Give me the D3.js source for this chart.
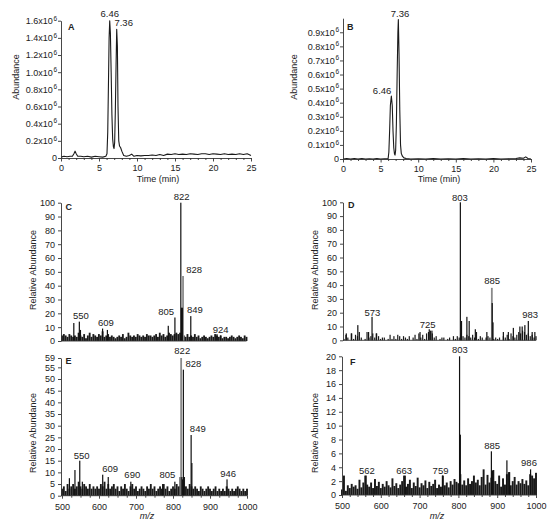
<!DOCTYPE html>
<html>
<head>
<meta charset="utf-8">
<script src="https://cdn.jsdelivr.net/npm/d3@7"></script>
<style>
body { margin: 0; background: #fff; }
text { font-family: "Liberation Sans", Arial, sans-serif; fill: #222; }
</style>
</head>
<body>
<svg id="canvas"></svg>
<script>
let chromTimeA = [0,0.4,0.8,1.2,1.5,1.7,1.85,2.0,2.2,2.6,3.0,3.5,4.0,4.5,5.0,5.5,5.9,6.05,6.15,6.25,6.33,6.41,6.5,6.6,6.7,6.8,6.9,6.98,7.06,7.15,7.25,7.33,7.42,7.5,7.6,7.7,7.85,8.0,8.25,8.6,9.0,9.3,9.6,10,10.5,11,11.5,12,12.5,13,13.5,14,14.5,15,15.5,16,16.5,17,17.5,18,18.5,19,19.5,20,20.5,21,21.5,22,22.5,23,23.5,24,24.5,25]
let chromAbundA = [0.01,0.02,0.015,0.02,0.02,0.05,0.08,0.05,0.02,0.02,0.015,0.02,0.01,0.02,0.015,0.01,0.02,0.05,0.3,0.9,1.4,1.6,1.45,1.0,0.5,0.22,0.13,0.11,0.18,0.55,1.1,1.5,1.3,0.6,0.2,0.14,0.12,0.08,0.03,0.02,0.03,0.045,0.02,0.03,0.025,0.03,0.03,0.035,0.03,0.04,0.03,0.045,0.04,0.05,0.04,0.045,0.04,0.05,0.045,0.04,0.05,0.05,0.04,0.05,0.045,0.04,0.05,0.04,0.045,0.04,0.05,0.04,0.05,0.03]

let chromTimeB = [0,0.5,1,1.5,2,2.5,3,3.5,4,4.5,5,5.5,6.0,6.1,6.2,6.3,6.43,6.55,6.65,6.75,6.85,6.92,7.0,7.1,7.2,7.3,7.36,7.45,7.55,7.65,7.75,7.9,8.1,8.4,9,10,11,12,13,14,15,16,17,18,19,20,21,22,23,23.5,24,24.3,24.6,25]
let chromAbundB = [0,0.003,0,0.004,0,0.003,0,0.002,0,0.003,0,0.002,0.003,0.05,0.2,0.38,0.447,0.38,0.2,0.08,0.035,0.028,0.06,0.25,0.6,0.9,0.99,0.75,0.35,0.1,0.04,0.02,0.008,0.003,0,0.002,0,0.003,0,0.002,0,0.003,0,0.002,0,0.003,0,0.002,0.004,0.008,0.005,0.015,0.004,0]

let timeTicks = [0,5,10,15,20,25]
let ticksA = [0,0.2,0.4,0.6,0.8,1.0,1.2,1.4,1.6]
let ticksB = [0,0.1,0.2,0.3,0.4,0.5,0.6,0.7,0.8,0.9]
let labelsA = [["6.46",6.41,1.647],["7.36",8.25,1.54]]
let labelsB = [["7.36",7.59,1.006],["6.46",5.2,0.46]]

// m/z grid of the low level signal, one value every 5 units
let mzGrid = d3.range(500, 1001, 5)

let noiseC = [4,5,4,3,5,4,3,4,3,6, 4,3,5,2,4,6,3,5,4,3, 5,4,7,3,4,5,3,4,3,2, 3,4,3,5,2,3,6,4,3,4, 3,5,4,3,4,3,5,4,4,3,
  4,5,3,6,4,5,3,4,6,5, 4,5,6,5,6,8,4,3,5,3, 4,3,5,3,4,2,3,4,3,2, 3,4,3,5,4,3,4,2,3,3, 2,3,4,3,2,3,4,3,2,4, 3]
let peaksC = [[532,13],[547,14],[550,8],[610,9],[623,8],[788,11],[806,17],[822,100],[824,24],[825,24],[826,24],[849,18],[920,5],[930,4]]
let greyPeaksC = [[828,47]]
let labelsC = [["822",824,101.7],["828",858,49.5],["805",782,18.8],["849",860,20.5],["550",551,16.2],["609",619,10.9],["924",930,6]]

let noiseD = [1,4,2,0,5,1,4,3,6,2, 0,1,6,2,3,5,2,5,3,1, 2,2,0,1,4,1,3,1,4,3, 1,3,2,1,3,0,2,4,1,5, 2,4,1,5,6,7,5,2,3,0,
  1,2,2,0,1,2,0,3,1,3, 2,5,3,2,4,3,2,4,2,6, 1,3,2,0,2,3,2,5,1,2, 1,2,0,3,2,4,1,5,3,2, 4,6,5,7,6,4,5,3,4,2, 3]
let peaksD = [[506,5],[519,5],[536,11],[564,6],[573,17],[584,5],[698,6],[722,8],[729,7],[803,100],[806,14],[820,17],[826,14],[842,8],[872,6],[886,27],[888,13],[915,6],[928,6],[941,9],[958,10],[964,10],[971,11],[980,14],[990,6],[997,6]]
let greyPeaksD = [[885,38]]
let labelsD = [["803",802,101.2],["885",886,40.8],["573",574,17.8],["725",718,8.7],["983",985,15.9]]

let noiseE = [3,4,2,5,3,4,5,3,4,6, 4,3,5,4,3,5,3,4,3,4, 3,5,4,6,3,5,3,4,5,3, 4,2,4,3,5,3,2,4,5,3, 4,2,3,4,3,2,4,3,5,3,
  4,2,3,4,3,5,3,4,2,3, 4,3,5,4,8,7,8,4,3,5, 4,3,4,3,2,4,3,2,3,4, 3,2,3,4,2,3,2,3,2,4, 3,2,3,2,3,4,3,2,3,2, 3]
let peaksE = [[520,7.5],[535,11],[548,15],[555,6],[610,9],[625,8],[686,6],[772,5],[805,6],[824,8],[828,54],[849,26],[851,14],[946,7]]
let greyPeaksE = [[822,59]]
let labelsE = [["822",825,60.7],["828",855,55],["849",867,27.2],["550",553,15.7],["609",630,10.2],["690",690,7.6],["805",785,7.6],["946",949,7.9]]

let noiseF = [0.8,2.8,0.6,1.4,1.0,1.6,1.2,1.4,0.9,2.2, 1.1,1.8,2.8,1.5,1.2,1.8,1.0,2.3,1.3,1.9, 1.0,1.6,1.2,2.0,1.4,1.1,2.4,1.3,1.7,1.0,
  1.5,2.0,2.8,1.2,1.6,2.2,1.0,1.8,1.3,2.5, 1.1,1.7,1.4,2.1,1.0,1.9,1.3,1.6,2.2,1.0, 1.5,1.2,2.8,1.4,1.8,1.1,2.0,1.5,2.3,1.9,
  1.7,3.0,1.5,2.1,1.4,2.4,1.6,2.0,2.8,1.8, 2.2,1.4,2.6,3.7,1.5,2.9,1.8,2.5,3.6,2.0, 1.6,2.8,1.2,2.4,1.5,3.0,3.3,1.4,2.0,2.6,
  1.5,2.0,1.7,2.3,1.6,2.1,1.4,3.0,2.8,2.4, 3.2]
let peaksF = [[562,2.8],[663,2.8],[759,2.8],[803,20],[805,8.7],[885,6.3],[888,3.5],[925,5.0],[932,3.3],[986,3.7]]
let greyPeaksF = []
let labelsF = [["803",804,20.5],["885",887,6.6],["562",564,3.0],["663",660,3.0],["759",754,3.0],["986",982,4.2]]

let ticksCD = d3.range(0, 101, 10)
let ticksE = [0,5,10,15,20,25,30,35,40,45,50,55,59]
let ticksF = d3.range(0, 21, 2)
let mzTicks = [500,600,700,800,900,1000]

let width = 550
let height = 526

let svg = d3.select("#canvas")
svg.attr("width", width)
svg.attr("height", height)

let styleAxis = (g) => {
    g.attr("font-family", null).attr("font-size", null).attr("color", "#333")
    g.selectAll("text").attr("font-size", "9px")
    g.selectAll("line").attr("stroke-width", 0.9)
    g.select(".domain").attr("stroke-width", 0.9)
}

let addTitles = (c) => {
    svg.append("text")
        .attr("transform", "translate(" + c.yTitleX + "," + c.yTitleY + ") rotate(-90)")
        .attr("text-anchor", "middle")
        .attr("font-size", "9px")
        .text(c.yTitle)
    if (c.xTitle) {
        let t = svg.append("text")
            .attr("x", c.xTitleX)
            .attr("y", c.xTitleY)
            .attr("text-anchor", "middle")
            .attr("font-size", "9px")
            .text(c.xTitle)
        if (c.italic) t.attr("font-style", "italic")
    }
    svg.append("text")
        .attr("x", c.letterX)
        .attr("y", c.letterY)
        .attr("font-size", "9px")
        .attr("font-weight", "bold")
        .text(c.letter)
}

let drawChrom = (c) => {
    let xScale = d3.scaleLinear().domain([0, 25]).range([c.left, c.right])
    let yScale = d3.scaleLinear().domain([0, c.ymax]).range([c.bottom, c.top])

    svg.append("path")
        .datum(d3.zip(c.t, c.a))
        .attr("d", d3.line().x(d => xScale(d[0])).y(d => yScale(d[1])))
        .attr("fill", "none")
        .attr("stroke", "#1a1a1a")
        .attr("stroke-width", 1.1)
        .attr("stroke-linejoin", "round")

    let yAxis = d3.axisLeft(yScale).tickValues(c.yTicks).tickSize(3).tickSizeOuter(0).tickPadding(1)
    let ya = svg.append("g")
        .attr("transform", "translate(" + c.left + ",0)")
        .call(yAxis)
    styleAxis(ya)
    ya.selectAll("text").each(function (d) {
        let s = d3.select(this)
        if (d > 0) {
            s.text(d.toFixed(1) + "x10")
            s.append("tspan").attr("dx", "0.5").attr("dy", "-0.55em").attr("font-size", "6.5px").text("6")
        } else {
            s.text("0")
        }
    })

    let xAxis = d3.axisBottom(xScale).tickValues(timeTicks).tickSize(3.5).tickSizeOuter(0).tickPadding(3)
    let xa = svg.append("g")
        .attr("transform", "translate(0," + c.bottom + ")")
        .call(xAxis)
    styleAxis(xa)

    let minor = d3.axisBottom(xScale).tickValues(d3.range(0, 26).filter(v => v % 5 != 0)).tickSize(2).tickFormat("")
    let ma = svg.append("g")
        .attr("transform", "translate(0," + c.bottom + ")")
        .call(minor)
    ma.select(".domain").remove()
    styleAxis(ma)

    svg.selectAll(null)
        .data(c.labels)
        .enter()
        .append("text")
        .attr("x", d => xScale(d[1]))
        .attr("y", d => yScale(d[2]))
        .attr("text-anchor", "middle")
        .attr("font-size", "9.5px")
        .text(d => d[0])

    addTitles(c)
}

let drawSpectrum = (c) => {
    let xScale = d3.scaleLinear().domain([500, 1000]).range([c.left, c.right])
    let yScale = d3.scaleLinear().domain([0, c.ymax]).range([c.bottom, c.top])
    let w = c.noiseWidth || (xScale(505) - xScale(500))

    svg.append("g")
        .selectAll("rect")
        .data(d3.zip(mzGrid, c.noise))
        .enter()
        .append("rect")
        .attr("x", d => xScale(d[0]) - w / 2)
        .attr("y", d => yScale(d[1]))
        .attr("width", w)
        .attr("height", d => c.bottom - yScale(d[1]))
        .attr("fill", "#1a1a1a")

    svg.append("g")
        .selectAll("rect")
        .data(c.grey)
        .enter()
        .append("rect")
        .attr("x", d => xScale(d[0]) - 0.9)
        .attr("y", d => yScale(d[1]))
        .attr("width", 1.8)
        .attr("height", d => c.bottom - yScale(d[1]))
        .attr("fill", "#8a8a8a")

    svg.append("g")
        .selectAll("rect")
        .data(c.peaks)
        .enter()
        .append("rect")
        .attr("x", d => xScale(d[0]) - 0.6)
        .attr("y", d => yScale(d[1]))
        .attr("width", 1.2)
        .attr("height", d => c.bottom - yScale(d[1]))
        .attr("fill", "#111")

    let yAxis = d3.axisLeft(yScale).tickValues(c.yTicks).tickSize(3).tickSizeOuter(0).tickPadding(3)
    let ya = svg.append("g")
        .attr("transform", "translate(" + (c.axisX || c.left) + ",0)")
        .call(yAxis)
    styleAxis(ya)

    let xAxis = d3.axisBottom(xScale).tickSizeOuter(0).tickFormat(d3.format("d"))
    if (c.minorStep) {
        xAxis.tickValues(mzTicks).tickSize(3).tickPadding(5)
    } else {
        xAxis.tickValues([]).tickSize(0)
    }
    let xa = svg.append("g")
        .attr("transform", "translate(0," + c.bottom + ")")
        .call(xAxis)
    xa.select(".domain").attr("d", "M" + (c.axisX || c.left) + ",0H" + c.right)
    styleAxis(xa)

    if (c.minorStep) {
        let minor = d3.axisBottom(xScale).tickValues(d3.range(500, 1001, c.minorStep).filter(v => v % 100 != 0)).tickSize(2).tickFormat("")
        let ma = svg.append("g")
            .attr("transform", "translate(0," + c.bottom + ")")
            .call(minor)
        ma.select(".domain").remove()
        styleAxis(ma)
    }

    svg.selectAll(null)
        .data(c.labels)
        .enter()
        .append("text")
        .attr("x", d => xScale(d[1]))
        .attr("y", d => yScale(d[2]))
        .attr("text-anchor", "middle")
        .attr("font-size", "9.5px")
        .text(d => d[0])

    addTitles(c)
}

drawChrom({left: 61, right: 251, bottom: 158, top: 20.7, ymax: 1.6, t: chromTimeA, a: chromAbundA, yTicks: ticksA, labels: labelsA,
    yTitle: "Abundance", yTitleX: 18.5, yTitleY: 77, xTitle: "Time (min)", xTitleX: 158, xTitleY: 182, letter: "A", letterX: 68, letterY: 29.5})
drawChrom({left: 343, right: 531, bottom: 159, top: 18.2, ymax: 1.0, t: chromTimeB, a: chromAbundB, yTicks: ticksB, labels: labelsB,
    yTitle: "Abundance", yTitleX: 296.5, yTitleY: 77, xTitle: "Time (min)", xTitleX: 439, xTitleY: 182, letter: "B", letterX: 347, letterY: 29.5})

drawSpectrum({left: 62, right: 246.5, axisX: 61, bottom: 341, top: 202.7, ymax: 100, noise: noiseC, peaks: peaksC, grey: greyPeaksC, yTicks: ticksCD, labels: labelsC,
    yTitle: "Relative Abundance", yTitleX: 35.5, yTitleY: 270, letter: "C", letterX: 65.5, letterY: 209.5})
drawSpectrum({left: 344, right: 536, axisX: 343, bottom: 340.3, top: 202.3, ymax: 100, noise: noiseD, noiseWidth: 1.2, peaks: peaksD, grey: greyPeaksD, yTicks: ticksCD, labels: labelsD,
    yTitle: "Relative Abundance", yTitleX: 317.5, yTitleY: 270, letter: "D", letterX: 348, letterY: 208})
drawSpectrum({left: 62, right: 247, axisX: 61, bottom: 495.7, top: 358, ymax: 59, noise: noiseE, peaks: peaksE, grey: greyPeaksE, yTicks: ticksE, labels: labelsE, minorStep: 25,
    yTitle: "Relative Abundance", yTitleX: 35.5, yTitleY: 433, xTitle: "m/z", italic: true, xTitleX: 147, xTitleY: 519, letter: "E", letterX: 65.5, letterY: 363.5})
drawSpectrum({left: 342, right: 536, axisX: 342, bottom: 495, top: 356.3, ymax: 20, noise: noiseF, peaks: peaksF, grey: greyPeaksF, yTicks: ticksF, labels: labelsF, minorStep: 20,
    yTitle: "Relative Abundance", yTitleX: 317.5, yTitleY: 433, xTitle: "m/z", italic: true, xTitleX: 437, xTitleY: 519, letter: "F", letterX: 350, letterY: 365})
</script>
</body>
</html>
